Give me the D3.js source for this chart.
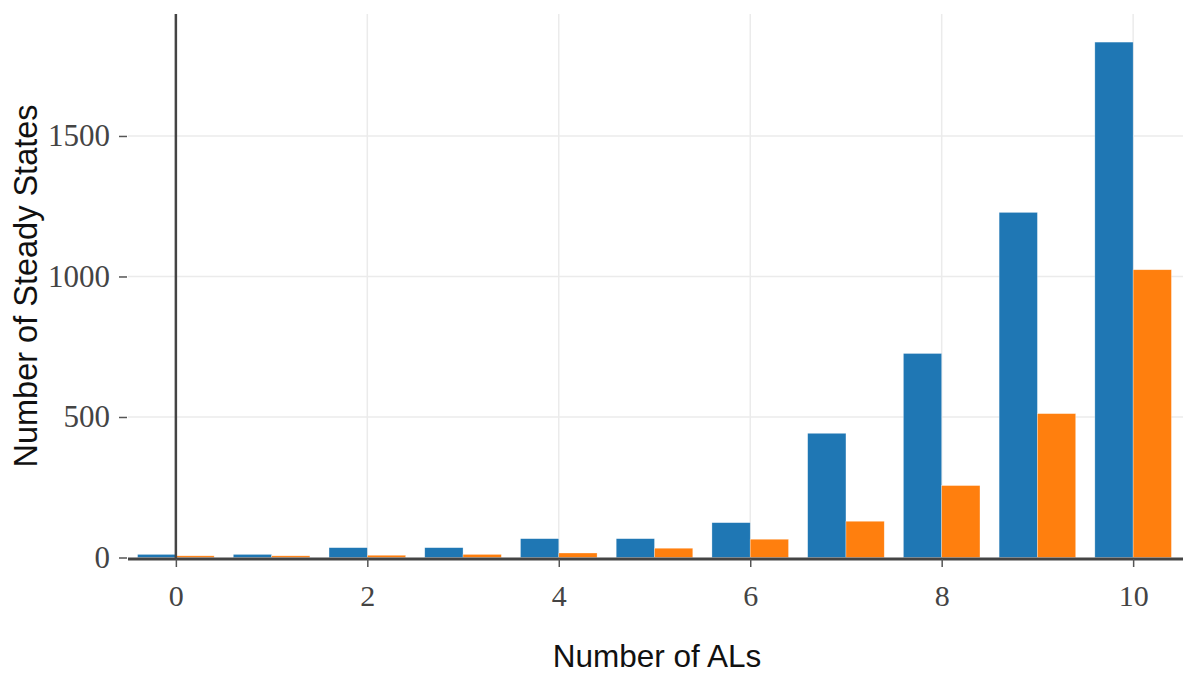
<!DOCTYPE html>
<html>
<head>
<meta charset="utf-8">
<script src="https://cdn.jsdelivr.net/npm/d3@7"></script>
<style>
  html, body { margin: 0; padding: 0; background: #fff; }
  svg { display: block; }
</style>
</head>
<body>
<svg id="chart" width="1187" height="673"></svg>
<script>
// Number of ALs on the x axis
const categories = [0, 1, 2, 3, 4, 5, 6, 7, 8, 9, 10];
// Steady-state counts for the two series
const seriesA = [11, 11, 35, 35, 67, 67, 124, 442, 726, 1228, 1834];
const seriesB = [6, 6, 8, 11, 16, 33, 65, 129, 256, 512, 1024];
const xTicks = [0, 2, 4, 6, 8, 10];
const yTicks = [0, 500, 1000, 1500];
const colors = ["#1f77b4", "#ff7f0e"];

const svg = d3.select("#chart");
const plot = { left: 128, right: 1181, top: 14, bottom: 557.5 };

const x = d3.scaleLinear().domain([-0.5, 10.5]).range([plot.left, plot.right]);
const y = d3.scaleLinear().domain([0, 1934]).range([plot.bottom, plot.top]);

const barW = 0.4; // each bar takes 0.4 units; the pair covers 0.8

// Grid lines
const grid = svg.append("g");
grid.selectAll("line.gy").data(yTicks.filter(d => d > 0)).join("line")
  .attr("x1", plot.left).attr("x2", plot.right + 2)
  .attr("y1", d => y(d)).attr("y2", d => y(d))
  .attr("stroke", "#ebebeb").attr("stroke-width", 1.5);
grid.selectAll("line.gx").data(xTicks.filter(d => d !== 0)).join("line")
  .attr("x1", d => x(d)).attr("x2", d => x(d))
  .attr("y1", plot.top).attr("y2", plot.bottom)
  .attr("stroke", "#ebebeb").attr("stroke-width", 1.5);

// Bars
const bars = svg.append("g");
const series = [seriesA, seriesB];
series.forEach((vals, s) => {
  bars.selectAll(null).data(categories).join("rect")
    .attr("x", (c) => x(c - barW + s * barW))
    .attr("width", (c) => x(barW) - x(0))
    .attr("y", (c, i) => y(vals[i]))
    .attr("height", (c, i) => y(0) - y(vals[i]))
    .attr("fill", colors[s])
    .attr("stroke", "#ffffff").attr("stroke-opacity", 0.5).attr("stroke-width", 0.6);
});

// Vertical zero line at x = 0
svg.append("line")
  .attr("x1", x(0)).attr("x2", x(0))
  .attr("y1", plot.top).attr("y2", plot.bottom + 1)
  .attr("stroke", "#444").attr("stroke-width", 2.5);

// X axis
const xAxis = d3.axisBottom(x).tickValues(xTicks).tickSize(8).tickPadding(18).tickFormat(d3.format("d"));
const gx = svg.append("g").attr("transform", `translate(0,${plot.bottom + 1.5})`).call(xAxis);
gx.select(".domain").attr("d", `M${plot.left},0H${plot.right + 2}`).attr("stroke", "#444").attr("stroke-width", 3);
gx.selectAll(".tick line").attr("stroke", "#555").attr("stroke-width", 1.5);
gx.selectAll(".tick text")
  .attr("font-family", "'Liberation Serif', 'Times New Roman', serif")
  .attr("font-size", 30).attr("fill", "#444");

// Y axis
const yAxis = d3.axisLeft(y).tickValues(yTicks).tickSize(8).tickPadding(9).tickFormat(d3.format("d"));
const gy = svg.append("g").attr("transform", `translate(${plot.left - 1},0)`).call(yAxis);
gy.select(".domain").remove();
gy.selectAll(".tick line").attr("stroke", "#555").attr("stroke-width", 1.5);
gy.selectAll(".tick text")
  .attr("font-family", "'Liberation Serif', 'Times New Roman', serif")
  .attr("font-size", 31).attr("fill", "#444");

// Axis titles
svg.append("text")
  .attr("x", 657).attr("y", 667)
  .attr("text-anchor", "middle")
  .attr("font-family", "'Liberation Sans', Arial, sans-serif")
  .attr("font-size", 31.5).attr("fill", "#111")
  .text("Number of ALs");

svg.append("text")
  .attr("transform", "translate(37,286) rotate(-90)")
  .attr("text-anchor", "middle")
  .attr("font-family", "'Liberation Sans', Arial, sans-serif")
  .attr("font-size", 32.5).attr("fill", "#111")
  .text("Number of Steady States");
</script>
</body>
</html>
